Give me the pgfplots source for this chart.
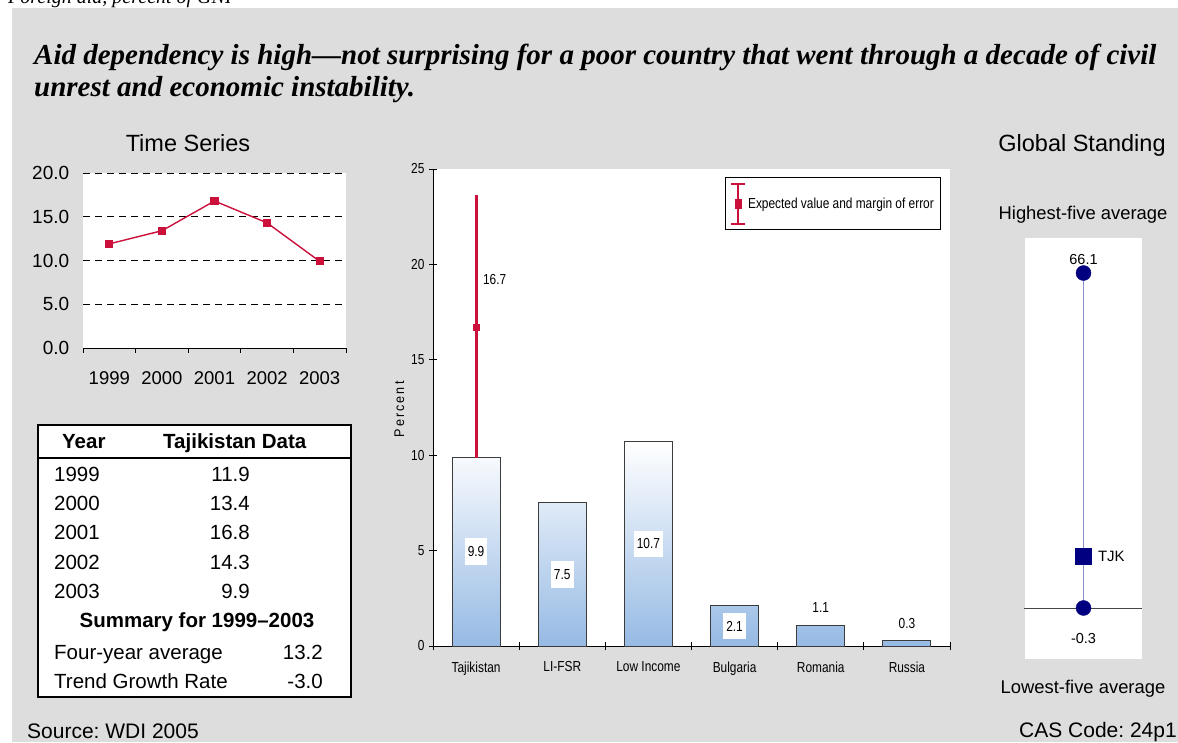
\documentclass[border=0pt]{standalone}
\usepackage{fontspec}
\setmainfont{Liberation Sans}
\newfontfamily\titlefont{Liberation Serif}
\newfontfamily\narrow[FakeStretch=0.82]{Liberation Sans}
\newfontfamily\spaced[LetterSpace=15,FakeStretch=0.9]{Liberation Sans}
\usepackage{pgfplots}
\pgfplotsset{compat=1.18}
\frenchspacing
\newcommand\fs[1]{\fontsize{#1}{#1}\selectfont}
\definecolor{panelgray}{RGB}{221,221,221}
\definecolor{crimson}{RGB}{204,16,60}
\definecolor{navy}{RGB}{0,0,128}
\definecolor{lav}{RGB}{140,140,200}
\definecolor{barblue}{RGB}{150,186,228}
\definecolor{bardraw}{RGB}{60,60,60}

\begin{document}
\begin{tikzpicture}[x=1pt,y=1pt]
\clip (0,0) rectangle (1178,742);
\fill[white] (0,0) rectangle (1178,742);
\fill[panelgray] (12,0) rectangle (1178,734);

% headings
\node[anchor=base west, inner sep=0, font=\titlefont\itshape\fs{20}] at (8,738.5) {Foreign aid, percent of GNI};
\node[anchor=base west, inner sep=0, font=\titlefont\bfseries\itshape\fs{29}] at (34,677)
  {Aid dependency is high—not surprising for a poor country that went through a decade of civil};
\node[anchor=base west, inner sep=0, font=\titlefont\bfseries\itshape\fs{29}] at (34,645)
  {unrest and economic instability.};
\node[anchor=base, inner sep=0, font=\fs{23.5}] at (188,590) {Time Series};
\node[anchor=base, inner sep=0, font=\fs{23.5}] at (1082,590) {Global Standing};
\node[anchor=base, inner sep=0, font=\fs{18.4}] at (1083,522) {Highest-five average};
\node[anchor=base, inner sep=0, font=\fs{18.4}] at (1083,48.4) {Lowest-five average};
\node[anchor=base west, inner sep=0, font=\fs{21}] at (27,3.5) {Source: WDI 2005};
\node[anchor=base west, inner sep=0, font=\fs{21}] at (1019,4.5) {CAS Code: 24p1};

% data table
\draw[line width=1.8pt, fill=white] (38,45) rectangle (351,317);
\draw[line width=1.8pt] (38,284) -- (351,284);
\begin{scope}[every node/.style={inner sep=0, font=\fs{20.5}}]
\node[anchor=base west, font=\fs{20.5}\bfseries] at (62,293) {Year};
\node[anchor=base west, font=\fs{20.5}\bfseries] at (163,293) {Tajikistan Data};
\node[anchor=base west] at (54,260) {1999}; \node[anchor=base east] at (250,260) {11.9};
\node[anchor=base west] at (54,231) {2000}; \node[anchor=base east] at (250,231) {13.4};
\node[anchor=base west] at (54,202) {2001}; \node[anchor=base east] at (250,202) {16.8};
\node[anchor=base west] at (54,172) {2002}; \node[anchor=base east] at (250,172) {14.3};
\node[anchor=base west] at (54,143) {2003}; \node[anchor=base east] at (250,143) {9.9};
\node[anchor=base, font=\fs{20.5}\bfseries] at (197,114) {Summary for 1999–2003};
\node[anchor=base west] at (54,83) {Four-year average}; \node[anchor=base east] at (323,83) {13.2};
\node[anchor=base west] at (54,54) {Trend Growth Rate}; \node[anchor=base east] at (323,54) {-3.0};
\end{scope}

% time series
\begin{axis}[
  at={(83pt,394pt)}, anchor=south west, scale only axis,
  width=263pt, height=175pt,
  xmin=0.5, xmax=5.5, ymin=0, ymax=20,
  axis background/.style={fill=white},
  axis x line*=bottom, axis y line*=left,
  y axis line style={draw=none},
  x axis line style={black, line width=0.8pt},
  xtick={1,2,3,4,5}, xticklabels={1999,2000,2001,2002,2003},
  minor xtick={0.5,1.5,2.5,3.5,4.5,5.5},
  major x tick style={draw=none},
  minor x tick style={black, line width=0.8pt},
  minor tick length=5pt, tick align=outside,
  ytick={0,5,10,15,20}, major y tick style={draw=none},
  ymajorgrids, grid style={black, dash pattern=on 7pt off 5pt, line width=0.8pt},
  /pgf/number format/assume math mode=true,
  yticklabel style={/pgf/number format/fixed, /pgf/number format/fixed zerofill,
    /pgf/number format/precision=1, font=\fs{19}, xshift=-6pt},
  xticklabel style={font=\fs{18.5}, yshift=-16pt},
  clip=false,
]
\addplot[crimson, line width=1.4pt, mark=square*, mark size=3.4pt]
  coordinates {(1,11.9) (2,13.4) (3,16.8) (4,14.3) (5,9.9)};
\end{axis}

% comparison bars
\begin{axis}[
  at={(433pt,96pt)}, anchor=south west, scale only axis,
  width=517pt, height=477pt,
  xmin=-0.5, xmax=5.5, ymin=0, ymax=25,
  axis background/.style={fill=white},
  axis x line*=bottom, axis y line*=left,
  axis line style={black, line width=0.8pt},
  xtick={0,1,2,3,4,5},
  xticklabels={Tajikistan,LI-FSR,Low Income,Bulgaria,Romania,Russia},
  minor xtick={-0.5,0.5,1.5,2.5,3.5,4.5,5.5},
  major x tick style={draw=none},
  minor x tick style={black, line width=0.8pt},
  minor tick length=8pt, major tick length=8pt, tick align=center,
  ytick={0,5,10,15,20,25},
  ytick style={black, line width=0.8pt},
  ticklabel style={font=\narrow\fs{14.5}},
  xticklabel style={yshift=-8pt},
  yticklabel style={xshift=-1pt},
  ylabel={\spaced\fs{14}Percent},
  ylabel style={at={(ticklabel cs:0.475)}, xshift=10pt},
  /pgf/number format/assume math mode=true,
  legend style={at={(0.983,0.983)}, anchor=north east, draw=black, line width=0.8pt,
    fill=white, font=\narrow\fs{14.5}, inner xsep=5pt, inner ysep=5pt,
    cells={anchor=west}},
  legend image code/.code={
    \draw[crimson, line width=2pt] (0.25em,-20pt) -- (0.25em,20pt);
    \draw[crimson, line width=2pt] (0.25em-7pt,-20pt) -- (0.25em+7pt,-20pt);
    \draw[crimson, line width=2pt] (0.25em-7pt,20pt) -- (0.25em+7pt,20pt);
    \fill[crimson] (0.25em-3.2pt,-4.5pt) rectangle (0.25em+3.2pt,4.5pt);
  },
  clip=false,
]
\addplot[ybar, bar width=48pt, draw=bardraw, line width=0.9pt,
  top color=white, bottom color=barblue, forget plot]
  coordinates {(0,9.9) (1,7.5) (2,10.7) (3,2.1) (4,1.1) (5,0.3)};
\addplot[only marks, crimson, mark=square*, mark size=3.2pt,
  error bars/.cd, y dir=both, y explicit,
  error bar style={line width=3pt, crimson},
  error mark options={line width=3pt, mark size=2.5pt, crimson}]
  coordinates {(0,16.7) += (0,6.8) -= (0,6.7)};
\addlegendentry{Expected value and margin of error}
\begin{scope}[every node/.style={font=\narrow\fs{14.5}}]
\node[fill=white, inner xsep=3pt, inner ysep=8pt] at (axis cs:0,4.95) {9.9};
\node[fill=white, inner xsep=3pt, inner ysep=8pt] at (axis cs:1,3.75) {7.5};
\node[fill=white, inner xsep=3pt, inner ysep=8pt] at (axis cs:2,5.35) {10.7};
\node[fill=white, inner xsep=3pt, inner ysep=8pt] at (axis cs:3,1.05) {2.1};
\node at (axis cs:4,2.0) {1.1};
\node at (axis cs:5,1.2) {0.3};
\node[anchor=west] at (axis cs:0.04,19.2) {16.7};
\end{scope}
\end{axis}

% global standing
\begin{axis}[
  at={(1025pt,83pt)}, anchor=south west, scale only axis,
  width=117pt, height=421pt,
  xmin=-1, xmax=1, ymin=-10.41, ymax=73.04,
  axis background/.style={fill=white},
  axis line style={draw=none}, ticks=none,
  clip=false,
]
\addplot[color={rgb,255:red,70;green,70;blue,70}, line width=0.8pt]
  coordinates {(-1.01,-0.3) (1,-0.3)};
\addplot[lav, line width=1.3pt] coordinates {(0,-0.3) (0,66.1)};
\addplot[only marks, navy, mark=*, mark size=7.5pt] coordinates {(0,-0.3) (0,66.1)};
\addplot[only marks, navy, mark=square*, mark size=8pt] coordinates {(0,9.9)};
\node[font=\fs{14.5}] at (axis cs:0,66.1) [yshift=14pt] {66.1};
\node[font=\fs{14.5}] at (axis cs:0,-0.3) [yshift=-31pt] {-0.3};
\node[font=\fs{15}, anchor=west] at (axis cs:0,9.9) [xshift=11pt] {TJK};
\end{axis}
\end{tikzpicture}
\end{document}
